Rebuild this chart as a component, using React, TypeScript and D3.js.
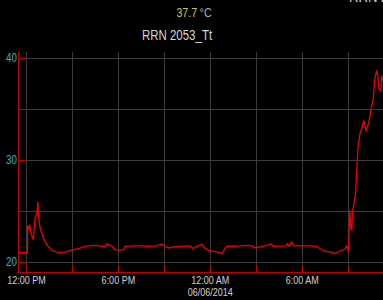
import * as d3 from "d3";
import { useEffect, useRef } from "react";

// temperature log
const times = [
  "2014-06-05T11:27", "2014-06-05T12:04", "2014-06-05T12:05", "2014-06-05T12:08", "2014-06-05T12:13",
  "2014-06-05T12:21", "2014-06-05T12:27", "2014-06-05T12:34", "2014-06-05T12:41", "2014-06-05T12:45",
  "2014-06-05T12:47", "2014-06-05T12:54", "2014-06-05T13:07", "2014-06-05T13:20", "2014-06-05T13:39",
  "2014-06-05T14:05", "2014-06-05T14:31", "2014-06-05T14:58", "2014-06-05T15:23", "2014-06-05T15:50",
  "2014-06-05T16:22", "2014-06-05T16:48", "2014-06-05T17:08", "2014-06-05T17:15", "2014-06-05T17:34",
  "2014-06-05T17:47", "2014-06-05T18:07", "2014-06-05T18:20", "2014-06-05T18:26", "2014-06-05T18:59",
  "2014-06-05T19:25", "2014-06-05T19:51", "2014-06-05T20:30", "2014-06-05T20:50", "2014-06-05T21:03",
  "2014-06-05T21:16", "2014-06-05T21:35", "2014-06-05T22:01", "2014-06-05T22:40", "2014-06-05T22:53",
  "2014-06-05T23:07", "2014-06-05T23:26", "2014-06-05T23:39", "2014-06-05T23:52", "2014-06-06T00:12",
  "2014-06-06T00:31", "2014-06-06T00:47", "2014-06-06T00:57", "2014-06-06T01:06", "2014-06-06T01:30",
  "2014-06-06T01:56", "2014-06-06T02:22", "2014-06-06T02:42", "2014-06-06T02:55", "2014-06-06T03:27",
  "2014-06-06T04:00", "2014-06-06T04:07", "2014-06-06T04:56", "2014-06-06T05:01", "2014-06-06T05:09",
  "2014-06-06T05:18", "2014-06-06T05:27", "2014-06-06T06:30", "2014-06-06T06:56", "2014-06-06T07:09",
  "2014-06-06T07:29", "2014-06-06T07:55", "2014-06-06T08:08", "2014-06-06T08:27", "2014-06-06T08:47",
  "2014-06-06T08:54", "2014-06-06T08:58", "2014-06-06T09:01", "2014-06-06T09:06", "2014-06-06T09:10",
  "2014-06-06T09:14", "2014-06-06T09:16", "2014-06-06T09:29", "2014-06-06T09:38", "2014-06-06T09:46",
  "2014-06-06T09:55", "2014-06-06T10:01", "2014-06-06T10:10", "2014-06-06T10:21", "2014-06-06T10:30",
  "2014-06-06T10:38", "2014-06-06T10:43", "2014-06-06T10:51", "2014-06-06T10:56", "2014-06-06T11:00",
  "2014-06-06T11:07", "2014-06-06T11:12", "2014-06-06T11:18",
];
const temps = [
  20.95, 20.95, 23.6, 23.3, 23.6,
  22.6, 22.2, 24.4, 24.8, 25.9,
  24.6, 23.3, 22.35, 21.7, 21.2,
  20.95, 21.0, 21.2, 21.35, 21.57,
  21.65, 21.6, 21.5, 21.8, 21.6,
  21.25, 21.2, 21.25, 21.57, 21.6,
  21.6, 21.57, 21.6, 21.8, 21.57,
  21.4, 21.5, 21.57, 21.6, 21.35,
  21.57, 21.76, 21.4, 21.2, 21.08,
  21.0, 20.85, 21.35, 21.57, 21.57,
  21.6, 21.65, 21.6, 21.43, 21.57,
  21.8, 21.57, 21.6, 21.8, 21.57,
  22.0, 21.6, 21.6, 21.57, 21.35,
  21.1, 21.0, 20.85, 21.08, 21.3,
  21.6, 21.3, 21.05, 25.1, 23.4,
  23.1, 24.8, 26.8, 31.3, 32.6,
  33.3, 33.9, 32.9, 33.75, 35.1,
  36.0, 37.8, 38.8, 38.2, 37.0,
  36.8, 38.3, 37.7,
];

const yTicks = [20, 25, 30, 35, 40];
const yLabels = [20, 30, 40];
const xDomain = ["2014-06-05T11:27", "2014-06-06T11:16"];
const yDomain = [19.05, 40.6];
const title = "RRN 2053_Tt";
const currentValue = "37.7";
const unit = "°C";

const font = "'Liberation Sans', Arial, sans-serif";
const squeeze = 0.82;

const App = () => {
  const ref = useRef(null);
  const width = 383;
  const height = 300;
  const plot = { left: 18, right: 383, top: 52, bottom: 272 };

  useEffect(() => {
    const svg = d3.select(ref.current);
    svg.selectAll("*").remove();
    const parse = d3.timeParse("%Y-%m-%dT%H:%M");
    const data = times.map((t, i) => ({ t: parse(t), v: temps[i] }));

    const x = d3.scaleTime()
      .domain(xDomain.map(d => parse(d)))
      .range([plot.left, plot.right]);
    const y = d3.scaleLinear().domain(yDomain).range([plot.bottom, plot.top]);

    // narrow text: the original uses a condensed face
    const label = (px, py, size, anchor) =>
      svg.append("text")
        .attr("transform", `translate(${px},${py}) scale(${squeeze},1)`)
        .attr("text-anchor", anchor)
        .attr("font-family", font)
        .attr("font-size", size);

    svg.append("rect").attr("width", width).attr("height", height).attr("fill", "#000");

    svg.append("defs").append("clipPath").attr("id", "plotclip")
      .append("rect")
      .attr("x", plot.left).attr("y", plot.top)
      .attr("width", plot.right - plot.left).attr("height", plot.bottom - plot.top);

    // header texts
    label(349, 1.5, 16, "start").attr("fill", "#c8ccd8").text(title);

    const head = label(194, 17, 13, "middle");
    head.append("tspan").attr("fill", "#c9c83a").text(currentValue);
    head.append("tspan").attr("fill", "#b0b0b0").attr("dx", 3).text(unit);

    label(177, 40, 14, "middle").attr("fill", "#d4d4d4").text(title);

    const xTicks = x.ticks(d3.timeHour.every(3));

    // grid
    const grid = svg.append("g").attr("stroke", "#3c3c3c").attr("stroke-width", 1);
    yTicks.forEach(t => {
      grid.append("line")
        .attr("x1", plot.left).attr("x2", plot.right)
        .attr("y1", Math.round(y(t)) + 0.5).attr("y2", Math.round(y(t)) + 0.5);
    });
    xTicks.forEach(t => {
      grid.append("line")
        .attr("x1", Math.round(x(t)) + 0.5).attr("x2", Math.round(x(t)) + 0.5)
        .attr("y1", plot.top).attr("y2", plot.bottom);
    });

    // axes
    const axis = svg.append("g").attr("stroke", "#c00000").attr("stroke-width", 1);
    axis.append("line")
      .attr("x1", plot.left + 0.5).attr("x2", plot.left + 0.5)
      .attr("y1", plot.top).attr("y2", plot.bottom + 0.5);
    axis.append("line")
      .attr("x1", plot.left).attr("x2", plot.right)
      .attr("y1", plot.bottom + 0.5).attr("y2", plot.bottom + 0.5);
    yTicks.forEach(t => {
      axis.append("line")
        .attr("x1", plot.left).attr("x2", plot.left + 8)
        .attr("y1", Math.round(y(t)) + 0.5).attr("y2", Math.round(y(t)) + 0.5);
    });
    xTicks.forEach(t => {
      axis.append("line")
        .attr("x1", Math.round(x(t)) + 0.5).attr("x2", Math.round(x(t)) + 0.5)
        .attr("y1", plot.bottom - 7).attr("y2", plot.bottom);
    });

    // y labels
    yLabels.forEach(t => {
      label(plot.left - 1, y(t) + 4, 12, "end").attr("fill", "#22b8c0").text(t);
    });

    // x labels
    const fmt = d3.timeFormat("%-I:%M %p");
    const dfmt = d3.timeFormat("%m/%d/%Y");
    xTicks.filter(t => t.getHours() % 6 === 0).forEach(t => {
      label(x(t), plot.bottom + 12, 11, "middle").attr("fill", "#d0d0d0").text(fmt(t));
      if (t.getHours() === 0) {
        label(x(t), plot.bottom + 24, 11, "middle").attr("fill", "#d0d0d0").text(dfmt(t));
      }
    });

    const line = d3.line()
      .x(d => x(d.t))
      .y(d => y(d.v));

    svg.append("path")
      .datum(data)
      .attr("clip-path", "url(#plotclip)")
      .attr("fill", "none")
      .attr("stroke", "#ee0000")
      .attr("stroke-width", 1.3)
      .attr("d", line);
  }, []);

  return (
    <svg
      ref={ref}
      width={width}
      height={height}
      style={{ position: "fixed", left: 0, top: 0, display: "block" }}
    ></svg>
  );
};

export default App;
